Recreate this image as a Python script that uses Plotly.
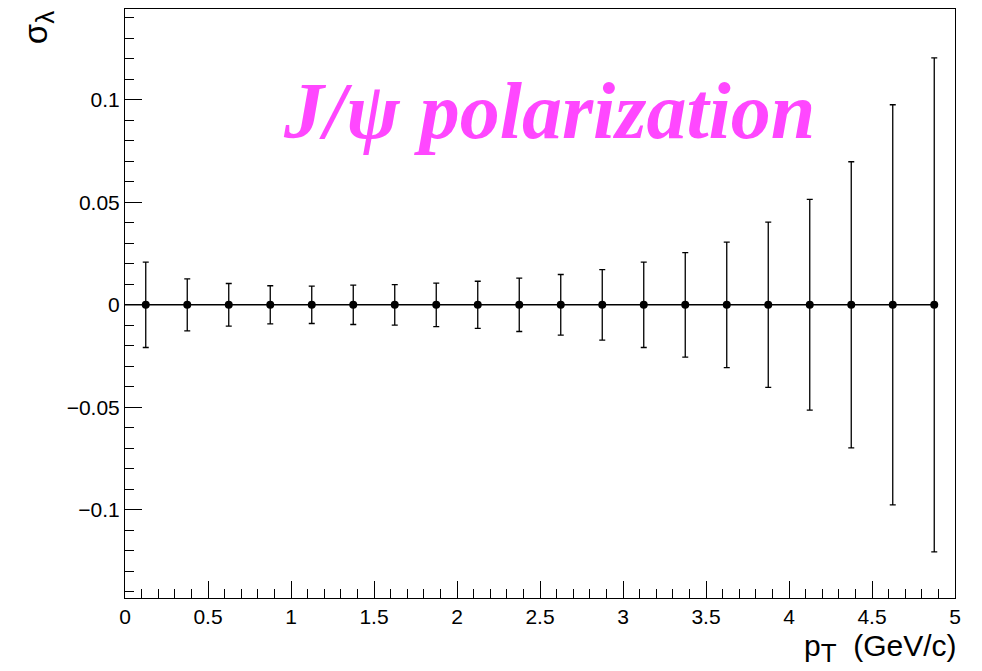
import plotly.graph_objects as go

# Data
pt_centers = [0.125, 0.375, 0.625, 0.875, 1.125, 1.375, 1.625, 1.875, 2.125, 2.375,
              2.625, 2.875, 3.125, 3.375, 3.625, 3.875, 4.125, 4.375, 4.625, 4.875]
sigma_lambda = [0.0] * 20
sigma_err = [0.0208, 0.0127, 0.0104, 0.0093, 0.0091, 0.0096, 0.0099, 0.0106, 0.0115, 0.0130,
             0.0148, 0.0172, 0.0208, 0.0255, 0.0306, 0.0403, 0.0514, 0.0698, 0.0976, 0.1205]
x_low_edge = 0.0

fig = go.Figure()

# connecting line from the lower edge to the last point
fig.add_trace(go.Scatter(
    x=[x_low_edge] + pt_centers, y=[sigma_lambda[0]] + sigma_lambda,
    mode="lines", line=dict(color="black", width=1.5),
    hoverinfo="skip", showlegend=False))

fig.add_trace(go.Scatter(
    x=pt_centers, y=sigma_lambda, mode="markers",
    marker=dict(color="black", size=8),
    error_y=dict(type="data", array=sigma_err, visible=True,
                 color="black", thickness=1.3, width=3),
    showlegend=False))

axis_font = dict(family="Liberation Sans, Arial, sans-serif", size=21, color="black")

fig.update_layout(
    width=970, height=660,
    margin=dict(l=117, r=23, t=1, b=70),
    paper_bgcolor="white", plot_bgcolor="white",
    xaxis=dict(range=[0, 5], dtick=0.5, tick0=0, ticks="inside", ticklen=17,
               tickwidth=1, tickcolor="black", showline=True, linecolor="black",
               linewidth=1, mirror=True, showgrid=False, zeroline=False,
               tickfont=axis_font,
               minor=dict(dtick=0.1, ticks="inside", ticklen=9, tickcolor="black",
                          showgrid=False)),
    yaxis=dict(range=[-0.143, 0.1443], dtick=0.05, tick0=0, ticks="inside", ticklen=17,
               tickwidth=1, tickcolor="black", showline=True, linecolor="black",
               linewidth=1, mirror=True, showgrid=False, zeroline=False,
               tickfont=axis_font,
               minor=dict(dtick=0.01, ticks="inside", ticklen=9, tickcolor="black",
                          showgrid=False)),
    annotations=[
        dict(text="<b>J/ψ polarization</b>", xref="x", yref="paper", x=2.554, y=0.827,
             xanchor="center", yanchor="middle", showarrow=False,
             font=dict(family="Liberation Serif, Times New Roman, serif", size=80,
                       color="#ff47ff", style="italic")),
        dict(text="σ<sub><span style='font-size:26px'>λ</span></sub>", xref="paper",
             yref="paper", x=-0.104, y=1.0,
             xanchor="center", yanchor="top", textangle=-90, showarrow=False,
             font=dict(family="Liberation Sans, Arial, sans-serif", size=33, color="black")),
        dict(text="p<sub><span style='font-size:26px'>T</span></sub>\u00a0\u00a0(GeV/c)",
             xref="paper", yref="paper", x=1.005, y=-0.085,
             xanchor="right", yanchor="middle", showarrow=False,
             font=dict(family="Liberation Sans, Arial, sans-serif", size=30, color="black")),
    ],
)

fig.write_html("out.html")
